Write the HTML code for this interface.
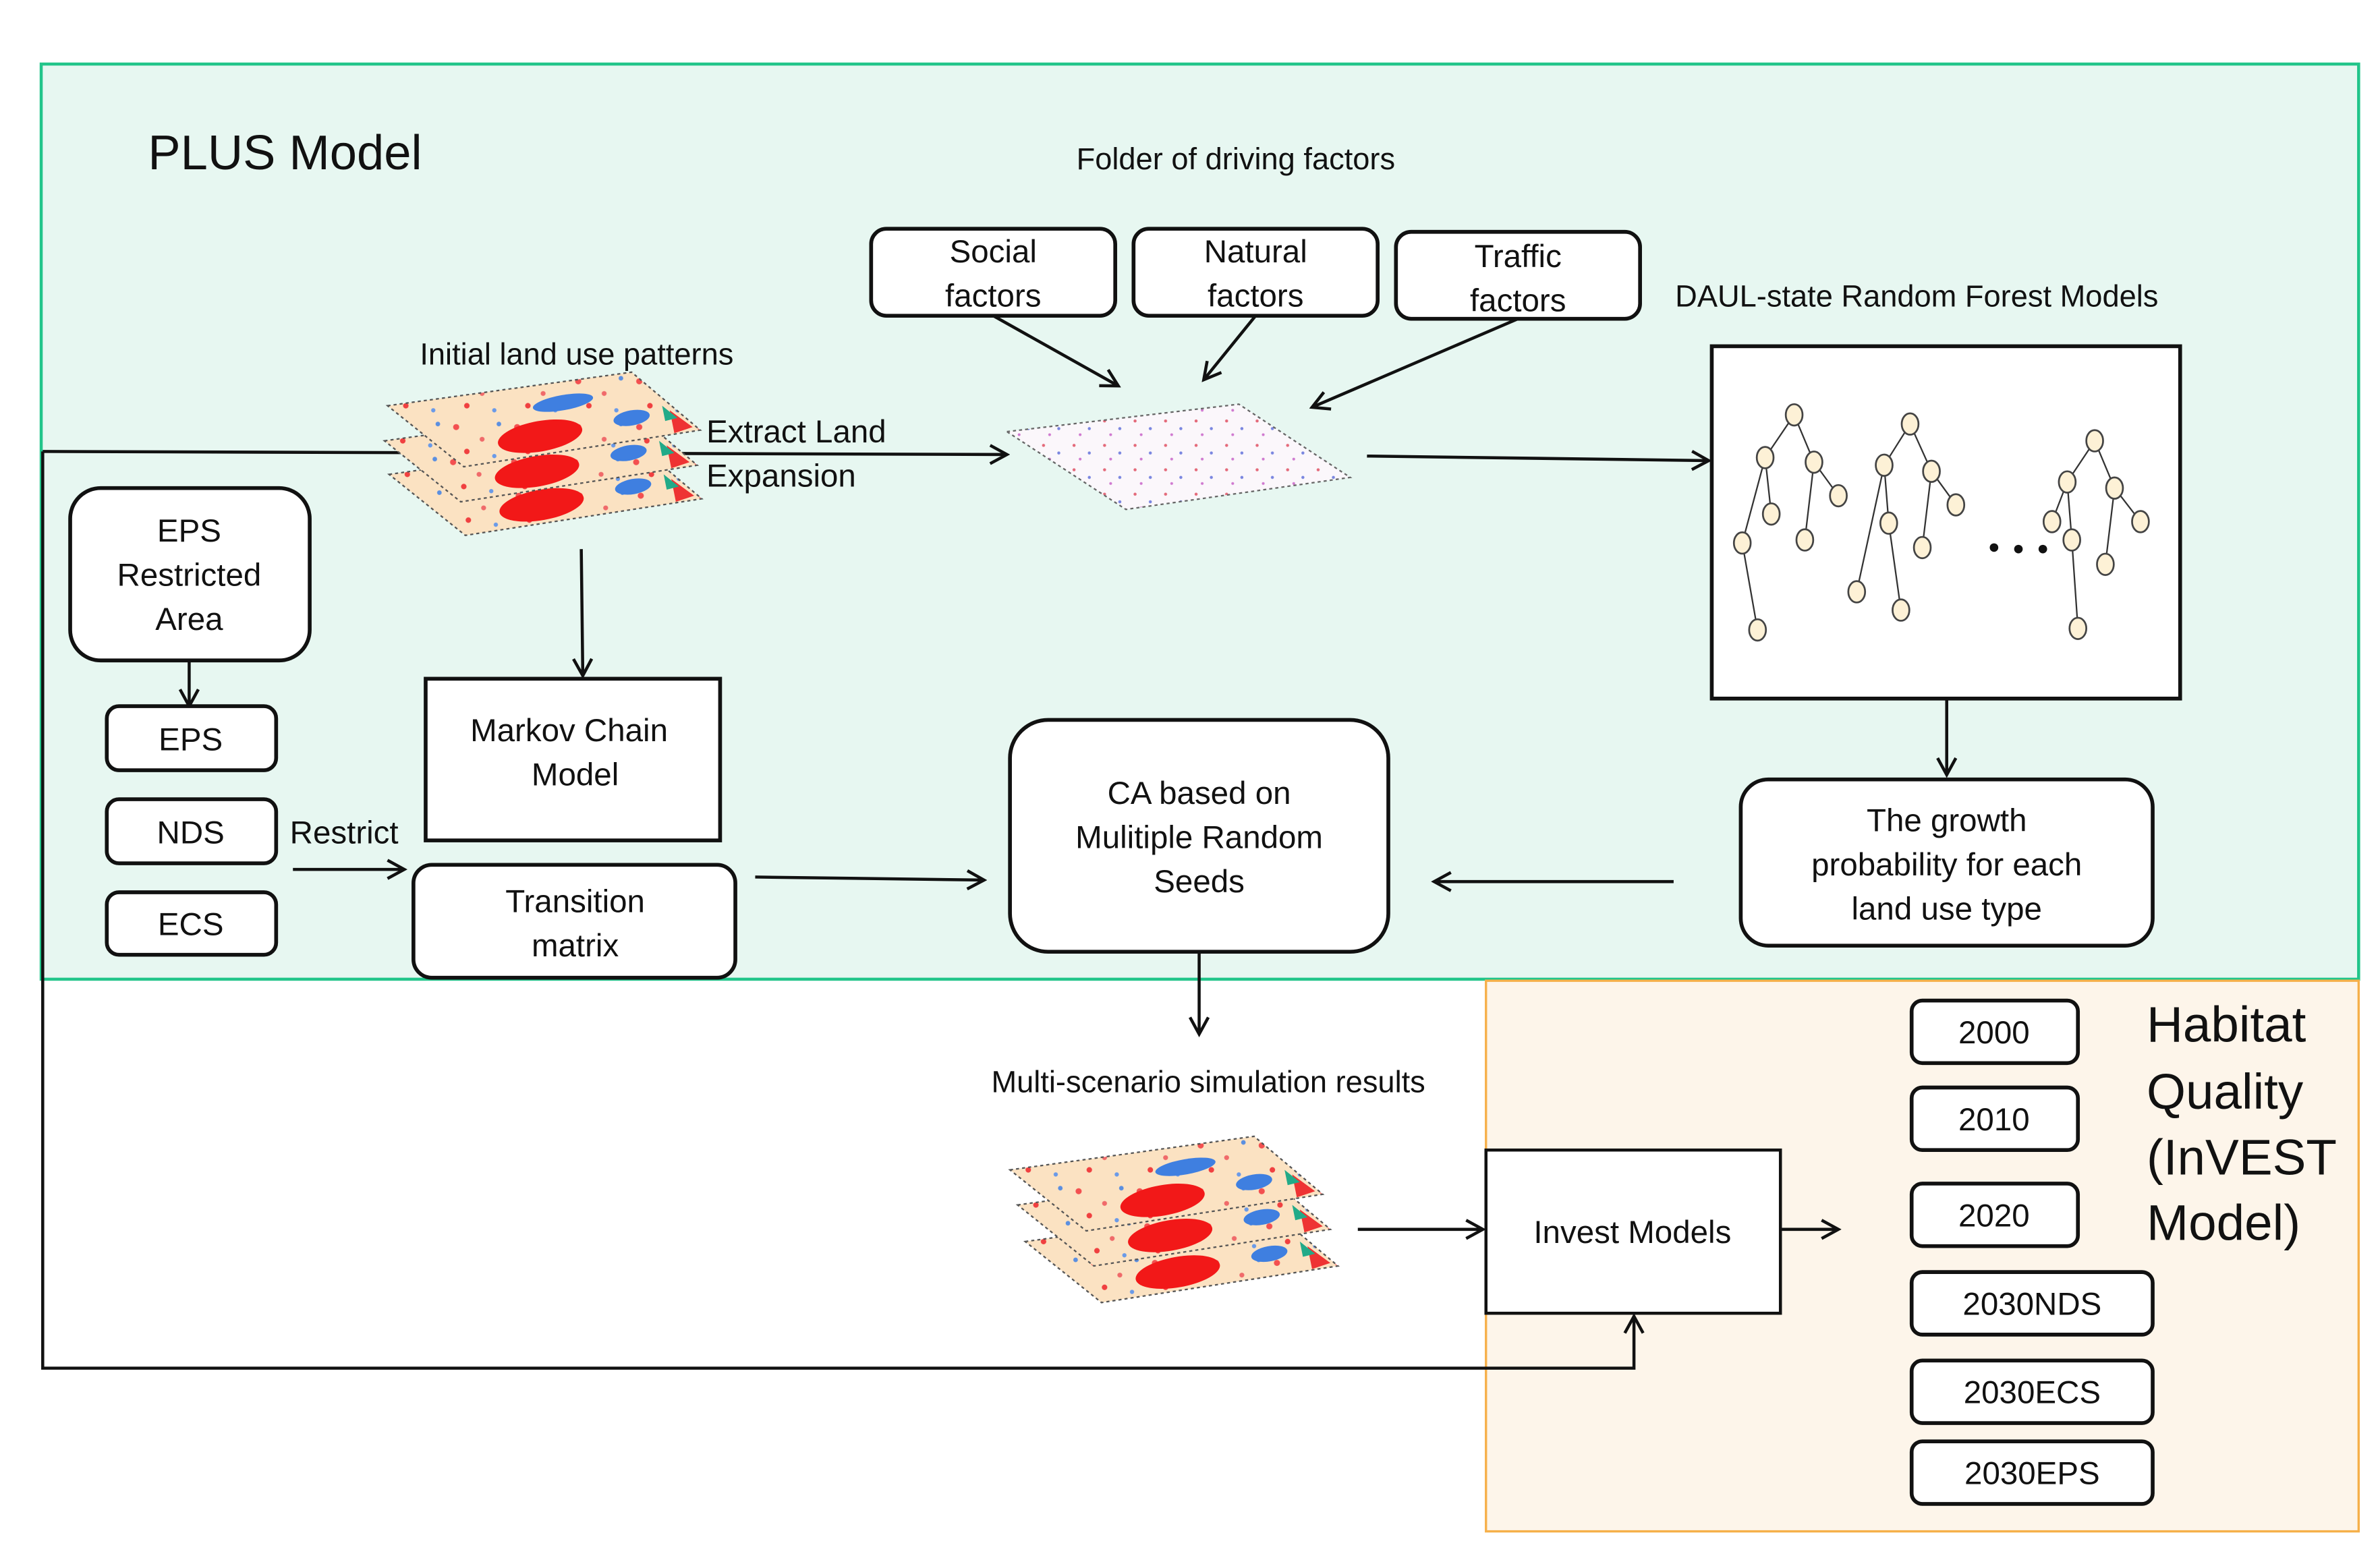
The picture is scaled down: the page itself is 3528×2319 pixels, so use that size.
<!DOCTYPE html>
<html><head><meta charset="utf-8"><style>
html,body{margin:0;padding:0;background:#fff;}
svg{display:block;}
text{font-family:"Liberation Sans",Arial,sans-serif;fill:#111;}
</style></head><body>
<svg width="3528" height="2319" viewBox="0 0 1560 1025.4" preserveAspectRatio="none" xmlns="http://www.w3.org/2000/svg">
<defs>
<marker id="a" markerWidth="14" markerHeight="14" refX="12" refY="7" orient="auto" markerUnits="userSpaceOnUse">
<path d="M1,1 L12,7 L1,13" fill="none" stroke="#111" stroke-width="2"/></marker>
<pattern id="mp" width="40" height="30" patternUnits="userSpaceOnUse">
<rect width="40" height="30" fill="#fbe2c2"/>
<circle cx="5" cy="6" r="2" fill="#f35050"/><circle cx="22" cy="14" r="1.6" fill="#f06a6a"/>
<circle cx="33" cy="4" r="1.5" fill="#5b8fe0"/><circle cx="12" cy="22" r="1.8" fill="#f04040"/>
<circle cx="30" cy="25" r="1.4" fill="#6a9ae8"/>
</pattern>
<pattern id="sp" width="20" height="16" patternUnits="userSpaceOnUse">
<rect width="20" height="16" fill="#fbf7fb"/>
<circle cx="4" cy="4" r="1" fill="#e46a7a"/><circle cx="14" cy="9" r="1" fill="#7a86e0"/>
<circle cx="8" cy="13" r="0.9" fill="#d07ad0"/>
</pattern>
<g id="map">
<polygon points="0,22 160,0 205,38 50,62" fill="url(#mp)" stroke="#555" stroke-width="1" stroke-dasharray="2,2"/>
<ellipse cx="100" cy="42" rx="28" ry="10" fill="#f21818" transform="rotate(-10 100 42)"/>
<ellipse cx="115" cy="20" rx="20" ry="5" fill="#3f7fe0" transform="rotate(-10 115 20)"/>
<ellipse cx="160" cy="30" rx="12" ry="5" fill="#3f7fe0" transform="rotate(-10 160 30)"/>
<polygon points="185,25 200,36 188,40" fill="#e33"/>
<polygon points="180,22 190,30 182,32" fill="#2a8"/>
</g>
</defs>

<!-- panels -->
<rect x="27" y="42" width="1519" height="600" fill="#e7f7f1" stroke="#22c58a" stroke-width="2"/>
<rect x="974" y="643" width="572" height="361" fill="#fdf5ea" stroke="#f6b04a" stroke-width="1.5"/>

<text x="97" y="111" font-size="32">PLUS Model</text>
<text x="810" y="111" font-size="20" text-anchor="middle">Folder of driving factors</text>

<!-- factor boxes -->
<g fill="#fff" stroke="#111" stroke-width="2.5">
<rect x="571" y="150" width="160" height="57" rx="10"/>
<rect x="743" y="150" width="160" height="57" rx="10"/>
<rect x="915" y="152" width="160" height="57" rx="10"/>
</g>
<g font-size="21" text-anchor="middle">
<text x="651" y="172">Social</text><text x="651" y="201">factors</text>
<text x="823" y="172">Natural</text><text x="823" y="201">factors</text>
<text x="995" y="175">Traffic</text><text x="995" y="204">factors</text>
</g>
<text x="1098" y="201" font-size="20">DAUL-state Random Forest Models</text>
<text x="378" y="239" font-size="20" text-anchor="middle">Initial land use patterns</text>

<!-- connectors -->
<g stroke="#111" stroke-width="2" fill="none">
<polyline points="28,296 28,897 1071,897 1071,863" marker-end="url(#a)"/>
<line x1="28" y1="296" x2="660" y2="298" marker-end="url(#a)"/>
<line x1="651" y1="207" x2="733" y2="253" marker-end="url(#a)"/>
<line x1="823" y1="207" x2="789" y2="249" marker-end="url(#a)"/>
<line x1="995" y1="209" x2="860" y2="267" marker-end="url(#a)"/>
<line x1="896" y1="299" x2="1120" y2="302" marker-end="url(#a)"/>
<line x1="124" y1="433" x2="124" y2="463" marker-end="url(#a)"/>
<line x1="192" y1="570" x2="265" y2="570" marker-end="url(#a)"/>
<line x1="381" y1="360" x2="382" y2="443" marker-end="url(#a)"/>
<line x1="495" y1="575" x2="645" y2="577" marker-end="url(#a)"/>
<line x1="1097" y1="578" x2="940" y2="578" marker-end="url(#a)"/>
<line x1="1276" y1="458" x2="1276" y2="508" marker-end="url(#a)"/>
<line x1="786" y1="624" x2="786" y2="678" marker-end="url(#a)"/>
<line x1="890" y1="806" x2="972" y2="806" marker-end="url(#a)"/>
<line x1="1168" y1="806" x2="1205" y2="806" marker-end="url(#a)"/>
</g>

<!-- map stacks -->
<use href="#map" x="255" y="289"/>
<use href="#map" x="252" y="267"/>
<use href="#map" x="254" y="244"/>
<use href="#map" x="672" y="792" transform="translate(0,0)"/>
<use href="#map" x="667" y="768"/>
<use href="#map" x="662" y="745"/>
<polygon points="660,283 812,265 885,313 738,334" fill="url(#sp)" stroke="#666" stroke-width="1" stroke-dasharray="2,2"/>

<text x="463" y="290" font-size="21">Extract Land</text>
<text x="463" y="319" font-size="21">Expansion</text>

<!-- forest box -->
<rect x="1122" y="227" width="307" height="231" fill="#fff" stroke="#111" stroke-width="2.5"/>
<g stroke="#333" stroke-width="1">
<path d="M1176,272L1157,300M1176,272L1189,303M1189,303L1205,325M1157,300L1161,337M1189,303L1183,354M1157,300L1142,356M1142,356L1152,413"/>
<path d="M1252,278L1235,305M1252,278L1266,309M1266,309L1282,331M1235,305L1238,343M1266,309L1260,359M1235,305L1217,388M1238,343L1246,400"/>
<path d="M1373,289L1355,316M1373,289L1386,320M1386,320L1403,342M1355,316L1345,342M1355,316L1358,354M1386,320L1380,370M1358,354L1362,412"/>
</g>
<g fill="#fdf1d6" stroke="#444" stroke-width="1.2">
<ellipse cx="1176" cy="272" rx="5.5" ry="7"/><ellipse cx="1157" cy="300" rx="5.5" ry="7"/><ellipse cx="1189" cy="303" rx="5.5" ry="7"/><ellipse cx="1205" cy="325" rx="5.5" ry="7"/><ellipse cx="1161" cy="337" rx="5.5" ry="7"/><ellipse cx="1183" cy="354" rx="5.5" ry="7"/><ellipse cx="1142" cy="356" rx="5.5" ry="7"/><ellipse cx="1152" cy="413" rx="5.5" ry="7"/>
<ellipse cx="1252" cy="278" rx="5.5" ry="7"/><ellipse cx="1235" cy="305" rx="5.5" ry="7"/><ellipse cx="1266" cy="309" rx="5.5" ry="7"/><ellipse cx="1282" cy="331" rx="5.5" ry="7"/><ellipse cx="1238" cy="343" rx="5.5" ry="7"/><ellipse cx="1260" cy="359" rx="5.5" ry="7"/><ellipse cx="1217" cy="388" rx="5.5" ry="7"/><ellipse cx="1246" cy="400" rx="5.5" ry="7"/>
<ellipse cx="1373" cy="289" rx="5.5" ry="7"/><ellipse cx="1355" cy="316" rx="5.5" ry="7"/><ellipse cx="1386" cy="320" rx="5.5" ry="7"/><ellipse cx="1403" cy="342" rx="5.5" ry="7"/><ellipse cx="1345" cy="342" rx="5.5" ry="7"/><ellipse cx="1358" cy="354" rx="5.5" ry="7"/><ellipse cx="1380" cy="370" rx="5.5" ry="7"/><ellipse cx="1362" cy="412" rx="5.5" ry="7"/>
</g>
<circle cx="1307" cy="359" r="2.8" fill="#111"/><circle cx="1323" cy="360" r="2.8" fill="#111"/><circle cx="1339" cy="360" r="2.8" fill="#111"/>

<!-- left boxes -->
<g fill="#fff" stroke="#111" stroke-width="2.5">
<rect x="46" y="320" width="157" height="113" rx="20"/>
<rect x="70" y="463" width="111" height="42" rx="8"/>
<rect x="70" y="524" width="111" height="42" rx="8"/>
<rect x="70" y="585" width="111" height="41" rx="8"/>
<rect x="279" y="445" width="193" height="106"/>
<rect x="271" y="567" width="211" height="74" rx="12"/>
<rect x="662" y="472" width="248" height="152" rx="25"/>
<rect x="1141" y="511" width="270" height="109" rx="18"/>
<rect x="974" y="754" width="193" height="107" stroke-width="2"/>
<rect x="1253" y="656" width="109" height="41" rx="7"/>
<rect x="1253" y="713" width="109" height="41" rx="7"/>
<rect x="1253" y="776" width="109" height="41" rx="7"/>
<rect x="1253" y="834" width="158" height="41" rx="7"/>
<rect x="1253" y="892" width="158" height="41" rx="7"/>
<rect x="1253" y="945" width="158" height="41" rx="7"/>
</g>
<g font-size="21" text-anchor="middle">
<text x="124" y="355">EPS</text><text x="124" y="384">Restricted</text><text x="124" y="413">Area</text>
<text x="125" y="492">EPS</text><text x="125" y="553">NDS</text><text x="125" y="613">ECS</text>
<text x="373" y="486">Markov Chain</text><text x="377" y="515">Model</text>
<text x="377" y="598">Transition</text><text x="377" y="627">matrix</text>
<text x="786" y="527">CA based on</text><text x="786" y="556">Mulitiple Random</text><text x="786" y="585">Seeds</text>
<text x="1276" y="545">The growth</text><text x="1276" y="574">probability for each</text><text x="1276" y="603">land use type</text>
<text x="1070" y="815">Invest Models</text>
<text x="1307" y="684">2000</text><text x="1307" y="741">2010</text><text x="1307" y="804">2020</text>
<text x="1332" y="862">2030NDS</text><text x="1332" y="920">2030ECS</text><text x="1332" y="973">2030EPS</text>
<text x="792" y="716" font-size="20">Multi-scenario simulation results</text>
</g>
<text x="190" y="553" font-size="21">Restrict</text>
<g font-size="33">
<text x="1407" y="683">Habitat</text><text x="1407" y="727">Quality</text><text x="1407" y="770">(InVEST</text><text x="1407" y="813">Model)</text>
</g>
</svg>
</body></html>
